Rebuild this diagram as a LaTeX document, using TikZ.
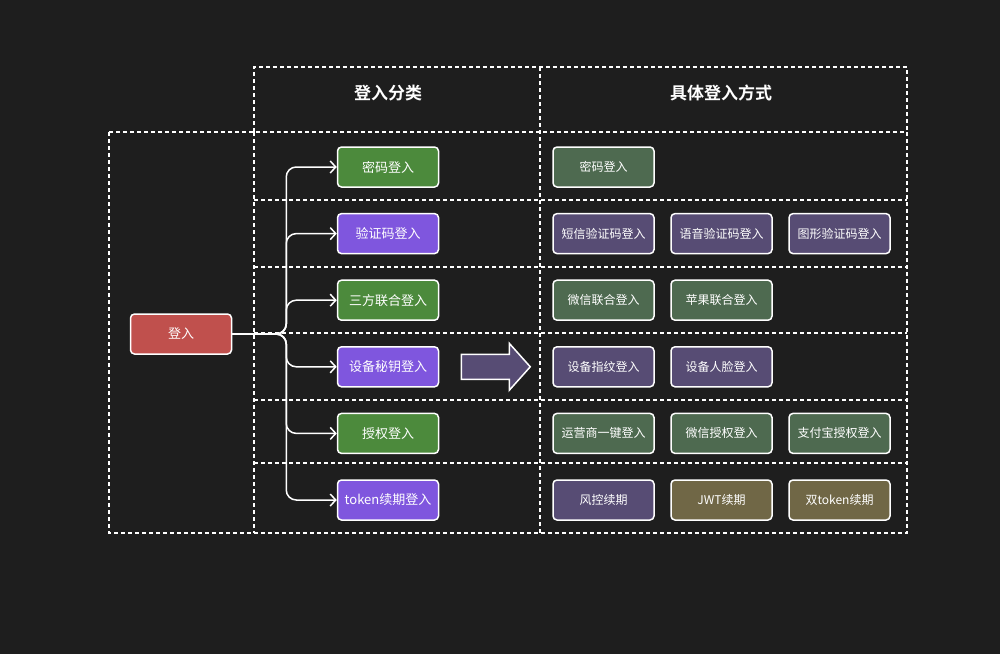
\documentclass[tikz,border=0pt]{standalone}
\usepackage{fontspec}
\setmainfont{Noto Sans CJK SC}[BoldFont=Noto Sans CJK SC Bold]
\usepackage{xcolor}
\definecolor{canvas}{HTML}{1E1E1E}
\definecolor{rootred}{HTML}{C0504D}
\definecolor{catgreen}{HTML}{4C8A3C}
\definecolor{catpurple}{HTML}{7F56DE}
\definecolor{waygreen}{HTML}{4E6A50}
\definecolor{waypurple}{HTML}{574C74}
\definecolor{wayolive}{HTML}{706746}
\usepackage{tikz}
\usetikzlibrary{arrows.meta, positioning}

\begin{document}
\begin{tikzpicture}[
  x = 1pt, y = -1pt,
  node distance = 25.1pt and 15.5pt,
  every node/.style = {text=white},
  % node styles
  box/.style    = {rectangle, rounded corners=4pt, draw=white, line width=1.5pt,
                   minimum width=101pt, minimum height=40pt, inner sep=2pt,
                   align=center},
  root/.style   = {box, fill=rootred, font=\fontsize{13}{15}\selectfont},
  catg/.style   = {box, fill=catgreen, font=\fontsize{13}{15}\selectfont},
  catp/.style   = {box, fill=catpurple, font=\fontsize{13}{15}\selectfont},
  wayg/.style   = {box, fill=waygreen, font=\fontsize{12}{14}\selectfont},
  wayp/.style   = {box, fill=waypurple, font=\fontsize{12}{14}\selectfont},
  wayo/.style   = {box, fill=wayolive, font=\fontsize{12}{14}\selectfont},
  header/.style = {font=\fontsize{17}{20}\selectfont\bfseries},
  jump/.style   = {draw=white, line width=1.5pt, fill=waypurple, line join=miter},
  % line styles
  grid/.style   = {draw=white, line width=1.6pt, dash pattern=on 4pt off 3pt},
  link/.style   = {-{Straight Barb[length=5.5pt, width=12pt]}, draw=white,
                   line width=1.5pt, rounded corners=10pt},
]

\useasboundingbox[fill=canvas] (0,0) rectangle (1000,654);

%% Dashed table
\draw[grid] (254,132) -- (254,67) -- (907,67) -- (907,132);
\draw[grid] (109,132) rectangle (907,533);
\draw[grid] (254,132) -- (254,533);
\draw[grid] (540,67)  -- (540,533);
\draw[grid] (254,200) -- (907,200);
\draw[grid] (254,267) -- (907,267);
\draw[grid] (254,333) -- (907,333);
\draw[grid] (254,400) -- (907,400);
\draw[grid] (254,463) -- (907,463);

%% Column headers
\node[header] (hcat) at (388,93) {登入分类};
\node[header] (hway) at (721,93) {具体登入方式};

%% Root
\node[root] (login) at (181,334) {登入};

%% Categories (stacked vertically)
\node[catg] (pwd) at (388,167)    {密码登入};
\node[catp, below=of pwd]    (sms)    {验证码登入};
\node[catg, below=of sms]    (third)  {三方联合登入};
\node[catp, below=of third]  (device) {设备秘钥登入};
\node[catg, below=of device] (auth)   {授权登入};
\node[catp, below=of auth]   (token)  {token续期登入};

%% Concrete ways (one row per category)
\node[wayg, right=113pt of pwd] (pwdA) {密码登入};

\node[wayp, right=113pt of sms] (smsA) {短信验证码登入};
\node[wayp, right=of smsA]      (smsB) {语音验证码登入};
\node[wayp, right=of smsB]      (smsC) {图形验证码登入};

\node[wayg, right=113pt of third] (thirdA) {微信联合登入};
\node[wayg, right=of thirdA]      (thirdB) {苹果联合登入};

\node[wayp, right=113pt of device] (devA) {设备指纹登入};
\node[wayp, right=of devA]         (devB) {设备人脸登入};

\node[wayg, right=113pt of auth] (authA) {运营商一键登入};
\node[wayg, right=of authA]      (authB) {微信授权登入};
\node[wayg, right=of authB]      (authC) {支付宝授权登入};

\node[wayp, right=113pt of token] (tokA) {风控续期};
\node[wayo, right=of tokA]        (tokB) {JWT续期};
\node[wayo, right=of tokB]        (tokC) {双token续期};

%% Big arrow between the columns
\coordinate[right=22pt of device] (jump);
\draw[jump] (jump) ++(0,-12.5) -- ++(48,0) -- ++(0,-11) -- ++(21,23.5)
  -- ++(-21,23.5) -- ++(0,-11) -- ++(-48,0) -- cycle;

%% Branch arrows from root
\coordinate[right=54pt of login] (trunk);
\draw[link] (login.east) -- (trunk) |- (pwd.west);
\draw[link] (login.east) -- (trunk) |- (sms.west);
\draw[link] (login.east) -- (trunk) |- (third.west);
\draw[link] (login.east) -- (trunk) |- (device.west);
\draw[link] (login.east) -- (trunk) |- (auth.west);
\draw[link] (login.east) -- (trunk) |- (token.west);

\end{tikzpicture}
\end{document}
